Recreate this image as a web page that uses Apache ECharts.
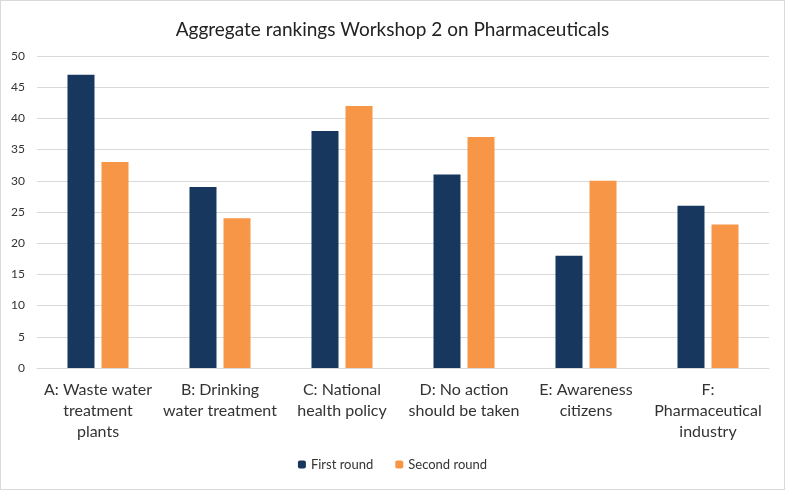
<!DOCTYPE html>
<html><head><meta charset="utf-8">
<script src="https://cdn.jsdelivr.net/npm/echarts@6/dist/echarts.min.js"></script>
<style>html,body{margin:0;padding:0;background:#fff}#c{width:785px;height:490px;box-sizing:border-box;border:1px solid #d9d9d9}</style>
</head><body><div id="c"></div>
<script>
const categories = ["A: Waste water\ntreatment\nplants", "B: Drinking\nwater treatment", "C: National\nhealth policy", "D: No action\nshould be taken", "E: Awareness\ncitizens", "F:\nPharmaceutical\nindustry"];
const firstRound = [47, 29, 38, 31, 18, 26];
const secondRound = [33, 24, 42, 37, 30, 23];
const yTicks = {min: 0, max: 50, interval: 5};

const chart = echarts.init(document.getElementById('c'));
const font = 'Lato, "Open Sans", sans-serif';
chart.setOption({
  animation: false,
  title: {text: 'Aggregate rankings Workshop 2 on Pharmaceuticals', left: 'center', top: 14,
    textStyle: {fontFamily: font, fontSize: 19, fontWeight: 'normal', color: '#222'}},
  legend: {bottom: 13, left: 'center', itemWidth: 8, itemHeight: 8, itemGap: 22,
    textStyle: {fontFamily: font, fontSize: 13, color: '#333'},
    data: ['First round', 'Second round']},
  grid: {left: 36, right: 15, top: 55, bottom: 121},
  xAxis: {type: 'category', data: categories,
    axisLine: {lineStyle: {color: '#d9d9d9'}}, axisTick: {show: false},
    axisLabel: {fontFamily: font, fontSize: 16, color: '#333', lineHeight: 21, margin: 11, interval: 0}},
  yAxis: {type: 'value', min: yTicks.min, max: yTicks.max, interval: yTicks.interval,
    axisLine: {show: false}, axisTick: {show: false},
    splitLine: {lineStyle: {color: '#d9d9d9'}},
    axisLabel: {fontFamily: font, fontSize: 12, color: '#333', margin: 12}},
  series: [
    {name: 'First round', type: 'bar', data: firstRound, barWidth: 27, barGap: '26%',
     itemStyle: {color: '#17375e'}},
    {name: 'Second round', type: 'bar', data: secondRound, barWidth: 27,
     itemStyle: {color: '#f79646'}}
  ]
});
</script></body></html>
